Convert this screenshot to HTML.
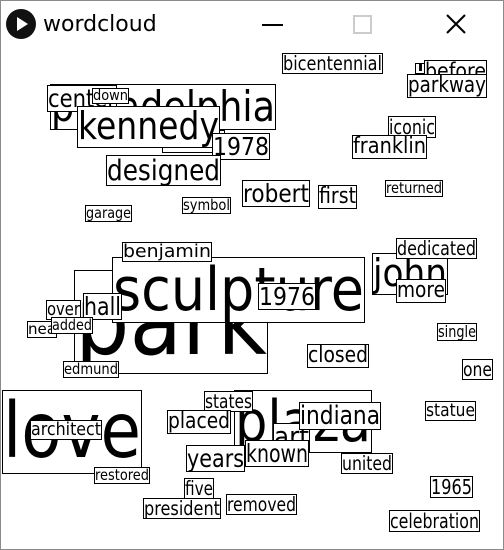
<!DOCTYPE html>
<html><head><meta charset="utf-8">
<style>
html,body{margin:0;padding:0;background:#fff;}
#win{position:relative;width:504px;height:550px;overflow:hidden;background:#fff;box-sizing:border-box;border:1px solid #8a8a8a;font-family:"DejaVu Sans","Liberation Sans",sans-serif;}
#cloud{position:absolute;left:-1px;top:-1px;}
.w{position:absolute;box-sizing:border-box;border:1px solid #000;background:#fff;white-space:nowrap;overflow:visible;color:#000;}
.w span{position:absolute;left:0;top:0;transform-origin:0 0;}
</style></head><body>
<div id="win">
  <div style="position:absolute;left:0;top:0;width:504px;height:46px;background:#fff;">
    <div style="position:absolute;left:5px;top:8px;width:30px;height:30px;border-radius:50%;background:#111;">
      <div style="position:absolute;left:11px;top:8px;width:0;height:0;border-left:11px solid #fff;border-top:7px solid transparent;border-bottom:7px solid transparent;"></div>
    </div>
    <div style="position:absolute;left:42px;top:11px;font-size:22px;font-family:'DejaVu Sans','Liberation Sans',sans-serif;">wordcloud</div>
    <div style="position:absolute;left:261px;top:23px;width:21px;height:2px;background:#000;"></div>
    <div style="position:absolute;left:352px;top:14px;width:19px;height:19px;box-sizing:border-box;border:2px solid #ccc;"></div>
    <div style="position:absolute;left:444px;top:12px;width:22px;height:22px;">
      <svg width="22" height="22"><line x1="2" y1="2" x2="20" y2="20" stroke="#000" stroke-width="2"/><line x1="20" y1="2" x2="2" y2="20" stroke="#000" stroke-width="2"/></svg>
    </div>
  </div>
  <div id="cloud"></div>
</div>
<script>
const words = ["bicentennial","l","parkway","before","philadelphia","center","down","kennedy","x","1978","designed","robert","first","returned","iconic","franklin","garage","symbol",
"park","sculpture","benjamin","hall","over","nea","added","1976","edmund","john","dedicated","more","single","closed","one",
"love","architect","restored","plaza","art","states","placed","indiana","statue","years","known","united","five","president","removed","1965","celebration"];
// box [x, y, w, h] layout of each word in the cloud
const boxes = [[282,53,101,21],[415,63,11,11],[407,74,80,24],[424,60,63,23],[50,84,226,46],[47,85,70,27],[92,88,37,16],[77,106,143,42],[162,130,63,23],[212,133,58,27],[106,155,115,31],[242,180,68,27],[318,185,39,24],[385,180,58,17],[388,116,48,22],[352,135,75,24],[85,205,47,17],[182,197,49,17],
[74,270,194,104],[112,257,253,66],[122,242,90,20],[83,293,39,27],[46,300,35,20],[27,321,30,17],[51,317,42,17],[258,283,58,27],[63,361,56,17],[372,253,76,42],[396,238,81,21],[396,279,50,24],[437,323,40,18],[307,344,62,24],[462,359,31,21],
[2,390,140,84],[30,420,72,20],[94,467,56,17],[234,390,138,63],[273,423,37,30],[204,391,49,21],[167,410,64,24],[299,402,82,28],[425,401,51,20],[186,445,59,27],[245,440,64,27],[341,453,52,21],[184,478,30,21],[143,498,78,21],[226,494,71,21],[430,476,43,22],[389,510,91,22]];
// draw order (later on top)
const order = [0,4,1,3,2,5,6,8,7,9,10,11,12,13,14,15,16,17,18,19,20,21,22,23,24,25,26,27,28,29,30,31,32,33,34,35,36,37,38,39,40,41,42,43,44,45,46,47,48,49];
const cloud = document.getElementById('cloud');
order.forEach(i => {
  const [x,y,w,h] = boxes[i];
  const d = document.createElement('div');
  d.className = 'w';
  
  
  d.style.left = x+'px'; d.style.top = y+'px'; d.style.width = w+'px'; d.style.height = h+'px';
  const s = document.createElement('span');
  const fs = h/1.1;
  s.style.fontSize = fs+'px';
  s.style.lineHeight = h+'px';
  s.textContent = words[i] === 'x' ? '' : words[i];
  d.appendChild(s);
  cloud.appendChild(d);
  const tw = s.getBoundingClientRect().width;
  if (tw > 0) s.style.transform = 'scaleX(' + ((w-2)/tw) + ')';
  s.style.top = '-1px';
});
</script>
</body></html>
